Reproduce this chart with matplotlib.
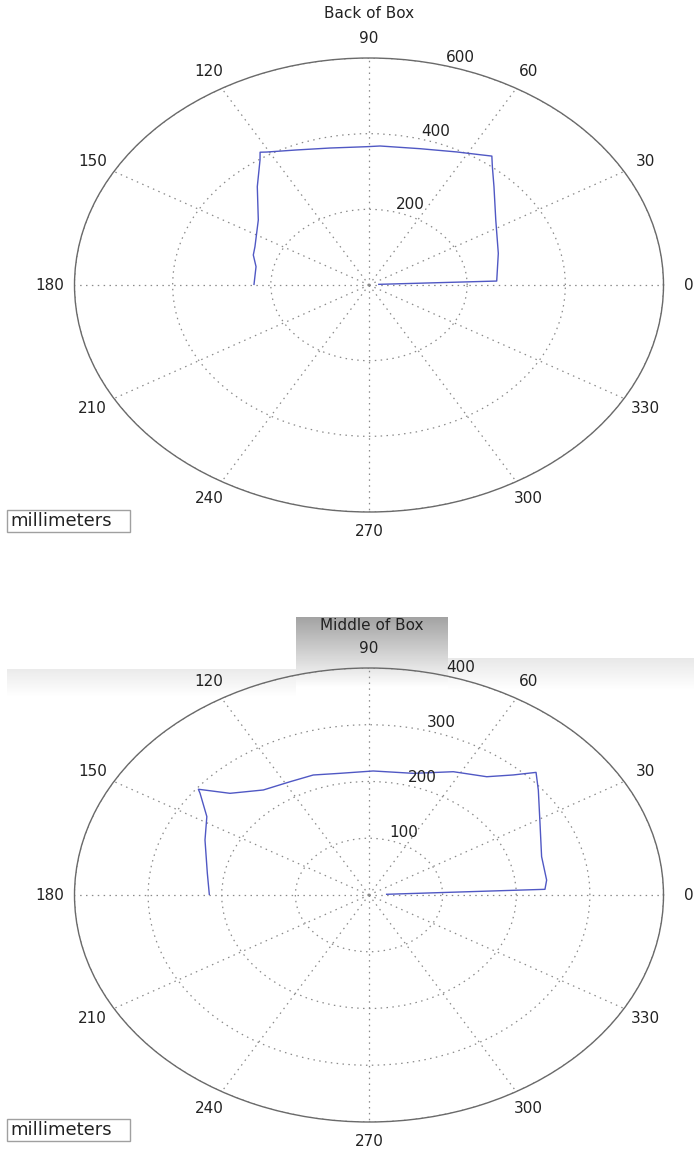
import numpy as np
import matplotlib.pyplot as plt
from matplotlib.patches import Rectangle

plt.rcParams['font.family'] = ['DejaVu Sans']

# scan at the back of the box: angle (deg) and range (mm)
back_theta = [5, 2.3, 17.6, 33.6, 45.6, 51.2, 53.7, 56.7, 63.1, 73.9, 86.5,
              90.7, 102.4, 112.4, 120.7, 122.3, 123.9, 131.2, 142.7, 156.5,
              161.4, 168.1, 179.6]
back_r = [20, 260.4, 276.4, 310.1, 363.9, 401.1, 422.8, 412.0, 394.4, 375.0,
          368.1, 365.6, 370.7, 386.1, 408.7, 415.2, 398.1, 345.5, 283.5,
          253.4, 248.7, 235.2, 234.3]

# scan in the middle of the box
mid_theta = [3, 2.4, 6.2, 16.1, 28.5, 38.8, 43.6, 47.2, 52.5, 62.2, 74.3,
             88.5, 100.4, 109.7, 118.3, 127.8, 136.5, 141.2, 142.0, 147.9,
             156.5, 170.1, 179.7]
mid_r = [24, 239.2, 242.7, 244.0, 264.3, 295.1, 313.3, 288.3, 262.7, 245.6,
         222.7, 218.6, 218.0, 224.6, 226.6, 234.2, 260.3, 297.4, 291.2,
         260.0, 242.9, 222.9, 216.9]

back_rticks = [200, 400, 600]
mid_rticks = [100, 200, 300, 400]
theta_ticks = list(range(0, 360, 30))

W, H = 694, 1150
fig = plt.figure(figsize=(W / 100, H / 100), dpi=100)


def px_rect(x0, y0, x1, y1):
    # pixel box (top-left origin) -> figure fraction rect
    return [x0 / W, 1 - y1 / H, (x1 - x0) / W, (y1 - y0) / H]


def gradient(x0, y0, x1, y1, g0, g1):
    gax = fig.add_axes(px_rect(x0, y0, x1, y1), zorder=0)
    grad = np.linspace(g0, g1, 64).reshape(-1, 1)
    gax.imshow(grad, cmap='gray', vmin=0, vmax=1, aspect='auto',
               interpolation='bilinear')
    gax.axis('off')


def polar_panel(cy, theta, r, rticks):
    rmax = rticks[-1]
    ax = fig.add_axes(px_rect(74.5, cy - 227, 663.5, cy + 227),
                      projection='polar', zorder=2)
    ax.set_aspect('auto')
    ax.set_facecolor('none')
    ax.plot(np.deg2rad(theta), r, color='#5058c4', lw=1.0)
    ax.set_rlim(0, rmax)
    ax.set_rticks(rticks)
    ax.set_yticklabels([])
    ax.set_thetagrids(theta_ticks, labels=[])
    ax.grid(True, color='#8a8a8a', lw=0.9, linestyle=(0, (1.2, 3.5)))
    ax.spines['polar'].set_color('#6a6a6a')
    ax.spines['polar'].set_linewidth(1.0)
    ax.tick_params(length=0)
    for t in theta_ticks:
        ax.text(np.deg2rad(t), rmax * 1.085, str(t), ha='center',
                va='center', fontsize=11, color='#222222', clip_on=False)
    for rt in rticks:
        ax.text(np.deg2rad(75), rt + rmax * 0.015, str(rt), ha='left',
                va='baseline', fontsize=11, color='#222222', clip_on=False)
    return ax


# grey bars behind the second title (screen capture leftovers)
gradient(296, 617, 448, 688, 0.64, 1.0)
gradient(448, 658, 694, 690, 0.91, 1.0)
gradient(7, 669, 296, 697, 0.92, 1.0)

polar_panel(285, back_theta, back_r, back_rticks)
polar_panel(895, mid_theta, mid_r, mid_rticks)

fig.text(369 / W, 1 - 14 / H, 'Back of Box', ha='center', va='center',
         fontsize=11, color='#222222')
fig.text(372 / W, 1 - 625 / H, 'Middle of Box', ha='center', va='center',
         fontsize=11, color='#222222', zorder=5)

for ytop in (510, 1119):
    fig.patches.append(Rectangle((7 / W, 1 - (ytop + 22) / H), 123 / W,
                                 22 / H, transform=fig.transFigure,
                                 fc='white', ec='#a0a0a0', lw=1.0))
    fig.text(10 / W, 1 - (ytop + 11) / H, 'millimeters', ha='left',
             va='center', fontsize=13, color='#222222')

fig.savefig('out.png', dpi=100)
